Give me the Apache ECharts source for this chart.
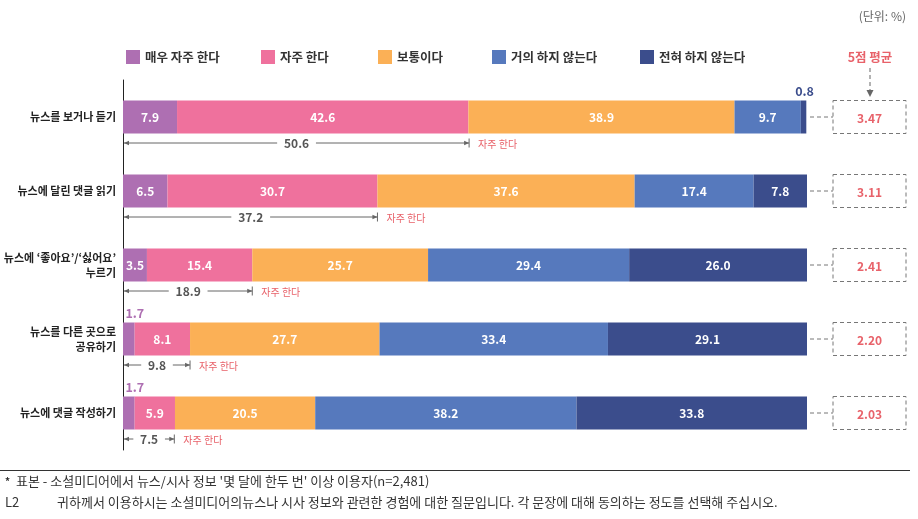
<!DOCTYPE html>
<html>
<head>
<meta charset="utf-8">
<script src="https://cdn.jsdelivr.net/npm/echarts@6/dist/echarts.min.js"></script>
<style>
html,body{margin:0;padding:0;background:#fff;}
#chart{width:918px;height:519px;}
</style>
</head>
<body>
<div id="chart"></div>
<script>
var categories = ['뉴스를 보거나 듣기', '뉴스에 달린 댓글 읽기', '뉴스에 ‘좋아요’/‘싫어요’\n누르기', '뉴스를 다른 곳으로\n공유하기', '뉴스에 댓글 작성하기'];
var seriesNames = ['매우 자주 한다', '자주 한다', '보통이다', '거의 하지 않는다', '전혀 하지 않는다'];
var veryOften = [7.9, 6.5, 3.5, 1.7, 1.7];
var often = [42.6, 30.7, 15.4, 8.1, 5.9];
var normal = [38.9, 37.6, 25.7, 27.7, 20.5];
var rarely = [9.7, 17.4, 29.4, 33.4, 38.2];
var never = [0.8, 7.8, 26.0, 29.1, 33.8];
var oftenTotals = [50.6, 37.2, 18.9, 9.8, 7.5];
var averages = ['3.47', '3.11', '2.41', '2.20', '2.03'];

var colors = ['#ae6fb2', '#ef719d', '#fbb056', '#5679bd', '#3b4d8c'];
var FONT = '"Noto Sans CJK KR", "Noto Sans", sans-serif';
var RED = '#e8626a';

var chart = echarts.init(document.getElementById('chart'));
var values = [veryOften, often, normal, rarely, never];

var barSeries = values.map(function (arr, si) {
  return {
    name: seriesNames[si],
    type: 'bar',
    stack: 'total',
    barWidth: 33,
    itemStyle: { color: colors[si] },
    data: arr.map(function (v) {
      var small = v < 2;
      return {
        value: v,
        label: small ? { position: 'top', color: colors[si], distance: 3, offset: [si === 0 ? 6 : 1, 0], fontSize: 12.5 } : {}
      };
    }),
    label: {
      show: true,
      position: 'inside',
      color: '#fff',
      fontFamily: FONT,
      fontSize: 12,
      fontWeight: 'bold',
      formatter: function (p) { return p.value.toFixed(1); }
    }
  };
});

var bracketSeries = {
  type: 'custom',
  clip: false,
  silent: true,
  z: 5,
  data: oftenTotals.map(function (t, i) { return [t, i]; }),
  renderItem: function (params, api) {
    var start = api.coord([0, api.value(1)]);
    var end = api.coord([api.value(0), api.value(1)]);
    var y = start[1] + 26;
    var x0 = start[0] + 1, x1 = end[0];
    var cx = (x0 + x1) / 2;
    var txt = api.value(0).toFixed(1);
    var halfW = txt.length * 3.6 + 5;
    var lineStyle = { stroke: '#666', lineWidth: 1 };
    return {
      type: 'group',
      children: [
        { type: 'line', shape: { x1: x0, y1: y, x2: cx - halfW, y2: y }, style: lineStyle },
        { type: 'line', shape: { x1: cx + halfW, y1: y, x2: x1, y2: y }, style: lineStyle },
        { type: 'polygon', shape: { points: [[x0, y], [x0 + 5, y - 2.2], [x0 + 5, y + 2.2]] }, style: { fill: '#666' } },
        { type: 'polygon', shape: { points: [[x1, y], [x1 - 5, y - 2.2], [x1 - 5, y + 2.2]] }, style: { fill: '#666' } },
        { type: 'line', shape: { x1: x1, y1: y - 4.5, x2: x1, y2: y + 4.5 }, style: lineStyle },
        { type: 'text', style: { text: txt, x: cx, y: y, align: 'center', verticalAlign: 'middle', fill: '#555', font: 'bold 12px ' + FONT } },
        { type: 'text', style: { text: seriesNames[1], x: x1 + 9, y: y + 1, align: 'left', verticalAlign: 'middle', fill: RED, font: '10px ' + FONT } }
      ]
    };
  }
};

var avgSeries = {
  type: 'custom',
  clip: false,
  silent: true,
  z: 5,
  data: averages.map(function (a, i) { return [0, i, a]; }),
  renderItem: function (params, api) {
    var cs = params.coordSys;
    var p = api.coord([0, api.value(1)]);
    var y = p[1];
    var right = cs.x + cs.width;
    var bx = right + 26, bw = 73, bh = 33;
    var dash = { stroke: '#777', lineWidth: 1, lineDash: [4, 3] };
    return {
      type: 'group',
      children: [
        { type: 'line', shape: { x1: right + 3, y1: y, x2: bx, y2: y }, style: dash },
        { type: 'rect', shape: { x: bx, y: y - bh / 2, width: bw, height: bh }, style: { fill: 'none', stroke: '#777', lineWidth: 1, lineDash: [4, 3] } },
        { type: 'text', style: { text: averages[params.dataIndex], x: bx + bw / 2, y: y + 1, align: 'center', verticalAlign: 'middle', fill: RED, font: 'bold 12px ' + FONT } }
      ]
    };
  }
};

var legendLefts = [126, 261, 378, 492, 640];
var legends = seriesNames.map(function (n, i) {
  return {
    data: [n],
    left: legendLefts[i],
    top: 50,
    padding: 0,
    itemWidth: 14,
    itemHeight: 14,
    itemGap: 0,
    icon: 'rect',
    selectedMode: false,
    textStyle: { fontFamily: FONT, fontSize: 12.5, fontWeight: 'bold', color: '#333' }
  };
});

chart.setOption({
  animation: false,
  textStyle: { fontFamily: FONT },
  legend: legends,
  grid: { left: 123, right: 111, top: 80, bottom: 69, containLabel: false },
  xAxis: {
    type: 'value', min: 0, max: 100,
    show: false
  },
  yAxis: {
    type: 'category',
    inverse: true,
    data: categories,
    axisLine: { show: true, lineStyle: { color: '#222', width: 1 } },
    axisTick: { show: false },
    axisLabel: {
      margin: 7,
      color: '#222',
      fontFamily: FONT,
      fontSize: 11,
      fontWeight: 'bold',
      lineHeight: 15,
      align: 'right'
    }
  },
  series: barSeries.concat([bracketSeries, avgSeries]),
  graphic: [
    { type: 'text', right: 12, top: 10, style: { text: '(단위: %)', fill: '#666', font: '12px ' + FONT } },
    { type: 'text', style: { x: 870, y: 57, text: '5점 평균', fill: RED, font: 'bold 12.5px ' + FONT, align: 'center', verticalAlign: 'middle' } },
    { type: 'line', shape: { x1: 870, y1: 68, x2: 870, y2: 91 }, style: { stroke: '#666', lineWidth: 1, lineDash: [4, 3] } },
    { type: 'polygon', shape: { points: [[870, 97], [866.5, 90], [873.5, 90]] }, style: { fill: '#666' } },
    { type: 'line', shape: { x1: 0, y1: 470.5, x2: 910, y2: 470.5 }, style: { stroke: '#333', lineWidth: 1 } },
    { type: 'text', left: 5, top: 476, style: { text: '*', fill: '#333', font: 'bold 10px ' + FONT } },
    { type: 'text', left: 16, top: 475, style: { text: '표본 - 소셜미디어에서 뉴스/시사 정보 \'몇 달에 한두 번\' 이상 이용자(n=2,481)', fill: '#333', font: '13px ' + FONT } },
    { type: 'text', left: 5, top: 496, style: { text: 'L2', fill: '#333', font: '13px ' + FONT } },
    { type: 'text', left: 57, top: 496, style: { text: '귀하께서 이용하시는 소셜미디어의뉴스나 시사 정보와 관련한 경험에 대한 질문입니다. 각 문장에 대해 동의하는 정도를 선택해 주십시오.', fill: '#333', font: '13px ' + FONT } }
  ]
});
</script>
</body>
</html>
